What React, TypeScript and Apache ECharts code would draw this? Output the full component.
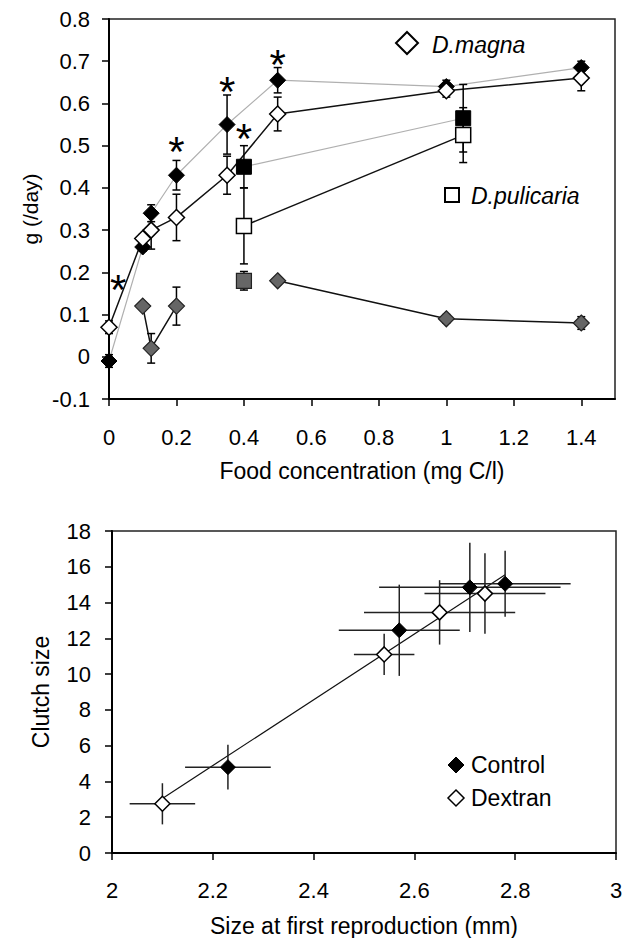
import React, { useEffect, useRef } from "react";
import * as echarts from "echarts";

// ---------- Top panel: growth rate vs food concentration ----------
const topXTicks = [0, 0.2, 0.4, 0.6, 0.8, 1, 1.2, 1.4];

// D. magna, filled diamonds (grey connecting line)
const magnaFilledX = [0, 0.1, 0.125, 0.2, 0.35, 0.5, 1.0, 1.4];
const magnaFilledY = [-0.01, 0.26, 0.34, 0.43, 0.55, 0.655, 0.64, 0.685];
const magnaFilledErr = [0.015, 0.01, 0.02, 0.035, 0.07, 0.03, 0.015, 0.015];

// D. magna, open diamonds (black connecting line)
const magnaOpenX = [0, 0.1, 0.125, 0.2, 0.35, 0.5, 1.0, 1.4];
const magnaOpenY = [0.07, 0.28, 0.3, 0.33, 0.43, 0.575, 0.63, 0.66];
const magnaOpenErr = [0.015, 0.01, 0.045, 0.055, 0.045, 0.04, 0.015, 0.03];

// D. magna, grey diamonds (two separate segments)
const magnaGreyLowX = [0.1, 0.125, 0.2];
const magnaGreyLowY = [0.12, 0.02, 0.12];
const magnaGreyLowErr = [0, 0.035, 0.045];
const magnaGreyHighX = [0.5, 1.0, 1.4];
const magnaGreyHighY = [0.18, 0.09, 0.08];
const magnaGreyHighErr = [0, 0.01, 0.015];

// D. pulicaria squares
const pulFilledX = [0.4, 1.05];
const pulFilledY = [0.45, 0.565];
const pulFilledErr = [0.05, 0.08];
const pulOpenX = [0.4, 1.05];
const pulOpenY = [0.31, 0.525];
const pulOpenErr = [0.09, 0.065];
const pulGreyX = [0.4];
const pulGreyY = [0.18];
const pulGreyErr = [0.022];

// significance asterisks
const starX = [0.027, 0.2, 0.35, 0.4, 0.5];
const starY = [0.184, 0.509, 0.652, 0.54, 0.715];

// ---------- Bottom panel: clutch size vs size at first reproduction ----------
const controlX = [2.23, 2.57, 2.71, 2.78];
const controlY = [4.8, 12.45, 14.85, 15.05];
const controlXErr = [0.085, 0.12, 0.18, 0.13];
const controlYErr = [1.25, 2.55, 2.5, 1.85];

const dextranX = [2.1, 2.54, 2.65, 2.74];
const dextranY = [2.75, 11.1, 13.45, 14.5];
const dextranXErr = [0.065, 0.06, 0.15, 0.12];
const dextranYErr = [1.15, 1.15, 1.8, 2.25];

const fitX = [2.1, 2.78];
const fitY = [3.05, 15.55];

const FONT = "'Liberation Sans', Arial, Helvetica, sans-serif";

const zip2 = (xs: number[], ys: number[]) => xs.map((x, i) => [x, ys[i]]);
const zip3 = (xs: number[], ys: number[], es: number[]) =>
  xs.map((x, i) => [x, ys[i], es[i]]);
const zip4 = (xs: number[], ys: number[], ex: number[], ey: number[]) =>
  xs.map((x, i) => [x, ys[i], ex[i], ey[i]]);

const vErrRender = (params: any, api: any) => {
  const x = api.value(0);
  const y = api.value(1);
  const e = api.value(2);
  if (!e) return { type: "group", children: [] };
  const a = api.coord([x, y + e]);
  const b = api.coord([x, y - e]);
  const cap = 4;
  const st = { stroke: "#000", lineWidth: 1.5 };
  return {
    type: "group",
    children: [
      { type: "line", shape: { x1: a[0], y1: a[1], x2: b[0], y2: b[1] }, style: st },
      { type: "line", shape: { x1: a[0] - cap, y1: a[1], x2: a[0] + cap, y2: a[1] }, style: st },
      { type: "line", shape: { x1: b[0] - cap, y1: b[1], x2: b[0] + cap, y2: b[1] }, style: st },
    ],
  };
};

const xyErrRender = (params: any, api: any) => {
  const x = api.value(0);
  const y = api.value(1);
  const ex = api.value(2);
  const ey = api.value(3);
  const l = api.coord([x - ex, y]);
  const r = api.coord([x + ex, y]);
  const t = api.coord([x, y + ey]);
  const b = api.coord([x, y - ey]);
  const st = { stroke: "#222", lineWidth: 1.5 };
  return {
    type: "group",
    children: [
      { type: "line", shape: { x1: l[0], y1: l[1], x2: r[0], y2: r[1] }, style: st },
      { type: "line", shape: { x1: t[0], y1: t[1], x2: b[0], y2: b[1] }, style: st },
    ],
  };
};

const starRender = (params: any, api: any) => {
  const p = api.coord([api.value(0), api.value(1)]);
  return {
    type: "text",
    x: p[0],
    y: p[1] + 10,
    style: {
      text: "*",
      fontSize: 42,
      fontFamily: FONT,
      fill: "#000",
      align: "center",
      verticalAlign: "middle",
    },
  };
};

const errSeries = (data: number[][], grid: number, render: any) => ({
  type: "custom",
  xAxisIndex: grid,
  yAxisIndex: grid,
  renderItem: render,
  data,
  encode: { x: 0, y: 1 },
  silent: true,
  z: 2,
});

const lineSeries = (data: number[][], color: string, width: number, grid = 0) => ({
  type: "line",
  xAxisIndex: grid,
  yAxisIndex: grid,
  data,
  showSymbol: false,
  symbol: "none",
  lineStyle: { color, width },
  silent: true,
  z: 1,
});

const markSeries = (
  name: string,
  data: number[][],
  symbol: string,
  size: number,
  fill: string,
  border: string,
  bw: number,
  grid = 0
) => ({
  type: "scatter",
  name,
  xAxisIndex: grid,
  yAxisIndex: grid,
  data,
  symbol,
  symbolSize: size,
  itemStyle: { color: fill, borderColor: border, borderWidth: bw, opacity: 1 },
  silent: true,
  z: 3,
});

const axisCommon = {
  axisLine: { show: true, onZero: false, lineStyle: { color: "#000", width: 2 } },
  axisTick: { show: true, inside: false, length: 7, lineStyle: { color: "#000", width: 1.5 } },
  splitLine: { show: false },
};

export default function App() {
  const ref = useRef<HTMLDivElement>(null);

  useEffect(() => {
    if (!ref.current) return;
    const chart = echarts.init(ref.current, undefined, { renderer: "svg" });

    const option: any = {
      animation: false,
      backgroundColor: "#fff",
      textStyle: { fontFamily: FONT },
      grid: [
        { left: 109, top: 19, width: 506, height: 380, show: true, borderColor: "#222", borderWidth: 1.5, backgroundColor: "transparent" },
        { left: 112, top: 531, width: 504, height: 322, show: true, borderColor: "#222", borderWidth: 1.5, backgroundColor: "transparent" },
      ],
      xAxis: [
        {
          ...axisCommon,
          type: "value",
          gridIndex: 0,
          min: 0,
          max: 1.5,
          interval: 0.2,
          axisTick: { ...axisCommon.axisTick, customValues: topXTicks },
          axisLabel: { customValues: topXTicks, margin: 27, fontSize: 22, color: "#000", fontFamily: FONT },
          name: "Food concentration (mg C/l)",
          nameLocation: "middle",
          nameGap: 60,
          nameTextStyle: { fontSize: 23, color: "#000", fontFamily: FONT },
        },
        {
          ...axisCommon,
          type: "value",
          gridIndex: 1,
          min: 2,
          max: 3,
          interval: 0.2,
          axisLabel: { margin: 26, fontSize: 22, color: "#000", fontFamily: FONT },
          name: "Size at first reproduction (mm)",
          nameLocation: "middle",
          nameGap: 61,
          nameTextStyle: { fontSize: 23, color: "#000", fontFamily: FONT },
        },
      ],
      yAxis: [
        {
          ...axisCommon,
          type: "value",
          gridIndex: 0,
          min: -0.1,
          max: 0.8,
          interval: 0.1,
          axisLabel: { margin: 19, fontSize: 22, color: "#000", fontFamily: FONT },
          name: "g (/day)",
          nameLocation: "middle",
          nameGap: 63,
          nameTextStyle: { fontSize: 21, color: "#000", fontFamily: FONT },
        },
        {
          ...axisCommon,
          type: "value",
          gridIndex: 1,
          min: 0,
          max: 18,
          interval: 2,
          axisLabel: { margin: 21, fontSize: 22, color: "#000", fontFamily: FONT },
          name: "Clutch size",
          nameLocation: "middle",
          nameGap: 60,
          nameTextStyle: { fontSize: 23, color: "#000", fontFamily: FONT },
        },
      ],
      series: [
        // top: connecting lines
        lineSeries(zip2(magnaFilledX, magnaFilledY), "#b0b0b0", 1.2),
        lineSeries(zip2(pulFilledX, pulFilledY), "#b0b0b0", 1.2),
        lineSeries(zip2(magnaOpenX, magnaOpenY), "#111", 1.5),
        lineSeries(zip2(pulOpenX, pulOpenY), "#111", 1.5),
        lineSeries(zip2(magnaGreyLowX, magnaGreyLowY), "#111", 1.5),
        lineSeries(zip2(magnaGreyHighX, magnaGreyHighY), "#111", 1.5),
        // top: error bars
        errSeries(zip3(magnaFilledX, magnaFilledY, magnaFilledErr), 0, vErrRender),
        errSeries(zip3(magnaOpenX, magnaOpenY, magnaOpenErr), 0, vErrRender),
        errSeries(zip3(pulFilledX, pulFilledY, pulFilledErr), 0, vErrRender),
        errSeries(zip3(pulOpenX, pulOpenY, pulOpenErr), 0, vErrRender),
        errSeries(zip3(pulGreyX, pulGreyY, pulGreyErr), 0, vErrRender),
        errSeries(zip3(magnaGreyLowX, magnaGreyLowY, magnaGreyLowErr), 0, vErrRender),
        errSeries(zip3(magnaGreyHighX, magnaGreyHighY, magnaGreyHighErr), 0, vErrRender),
        // top: markers
        markSeries("D.magna filled", zip2(magnaFilledX, magnaFilledY), "diamond", 16, "#000", "#000", 1),
        markSeries("D.magna", zip2(magnaOpenX, magnaOpenY), "diamond", 16, "#fff", "#000", 1.5),
        markSeries("D.magna grey low", zip2(magnaGreyLowX, magnaGreyLowY), "diamond", 16, "#666", "#222", 1.2),
        markSeries("D.magna grey high", zip2(magnaGreyHighX, magnaGreyHighY), "diamond", 16, "#666", "#222", 1.2),
        markSeries("D.pulicaria filled", zip2(pulFilledX, pulFilledY), "rect", 15, "#000", "#000", 1),
        markSeries("D.pulicaria", zip2(pulOpenX, pulOpenY), "rect", 15, "#fff", "#000", 1.5),
        markSeries("D.pulicaria grey", zip2(pulGreyX, pulGreyY), "rect", 15, "#666", "#222", 1.2),
        // asterisks
        { ...errSeries(zip2(starX, starY), 0, starRender), z: 4 },
        // bottom: regression line
        lineSeries(zip2(fitX, fitY), "#111", 1.2, 1),
        // bottom: error crosses
        errSeries(zip4(controlX, controlY, controlXErr, controlYErr), 1, xyErrRender),
        errSeries(zip4(dextranX, dextranY, dextranXErr, dextranYErr), 1, xyErrRender),
        // bottom: markers
        markSeries("Control", zip2(controlX, controlY), "diamond", 15, "#000", "#000", 1, 1),
        markSeries("Dextran", zip2(dextranX, dextranY), "diamond", 15, "#fff", "#000", 1.5, 1),
      ],
      graphic: [
        // top legend
        {
          type: "polygon",
          shape: { points: [[407, 32], [418, 43], [407, 54], [396, 43]] },
          style: { fill: "#fff", stroke: "#000", lineWidth: 2 },
          z: 10,
        },
        {
          type: "text",
          x: 432,
          y: 45,
          style: { text: "D.magna", fontSize: 23, fontStyle: "italic", fontFamily: FONT, fill: "#000", verticalAlign: "middle", align: "left" },
          z: 10,
        },
        {
          type: "rect",
          shape: { x: 445, y: 188, width: 14, height: 14 },
          style: { fill: "#fff", stroke: "#000", lineWidth: 2 },
          z: 10,
        },
        {
          type: "text",
          x: 471,
          y: 196,
          style: { text: "D.pulicaria", fontSize: 23, fontStyle: "italic", fontFamily: FONT, fill: "#000", verticalAlign: "middle", align: "left" },
          z: 10,
        },
        // bottom legend
        {
          type: "polygon",
          shape: { points: [[456, 757], [464, 765], [456, 773], [448, 765]] },
          style: { fill: "#000", stroke: "#000", lineWidth: 1 },
          z: 10,
        },
        {
          type: "text",
          x: 471,
          y: 765,
          style: { text: "Control", fontSize: 23, fontFamily: FONT, fill: "#000", verticalAlign: "middle", align: "left" },
          z: 10,
        },
        {
          type: "polygon",
          shape: { points: [[456, 790], [464, 798], [456, 806], [448, 798]] },
          style: { fill: "#fff", stroke: "#000", lineWidth: 1.5 },
          z: 10,
        },
        {
          type: "text",
          x: 471,
          y: 798,
          style: { text: "Dextran", fontSize: 23, fontFamily: FONT, fill: "#000", verticalAlign: "middle", align: "left" },
          z: 10,
        },
      ],
    };

    chart.setOption(option);
    return () => chart.dispose();
  }, []);

  return (
    <div
      ref={ref}
      style={{ position: "absolute", left: 0, top: 0, width: 627, height: 938, background: "#fff" }}
    />
  );
}
